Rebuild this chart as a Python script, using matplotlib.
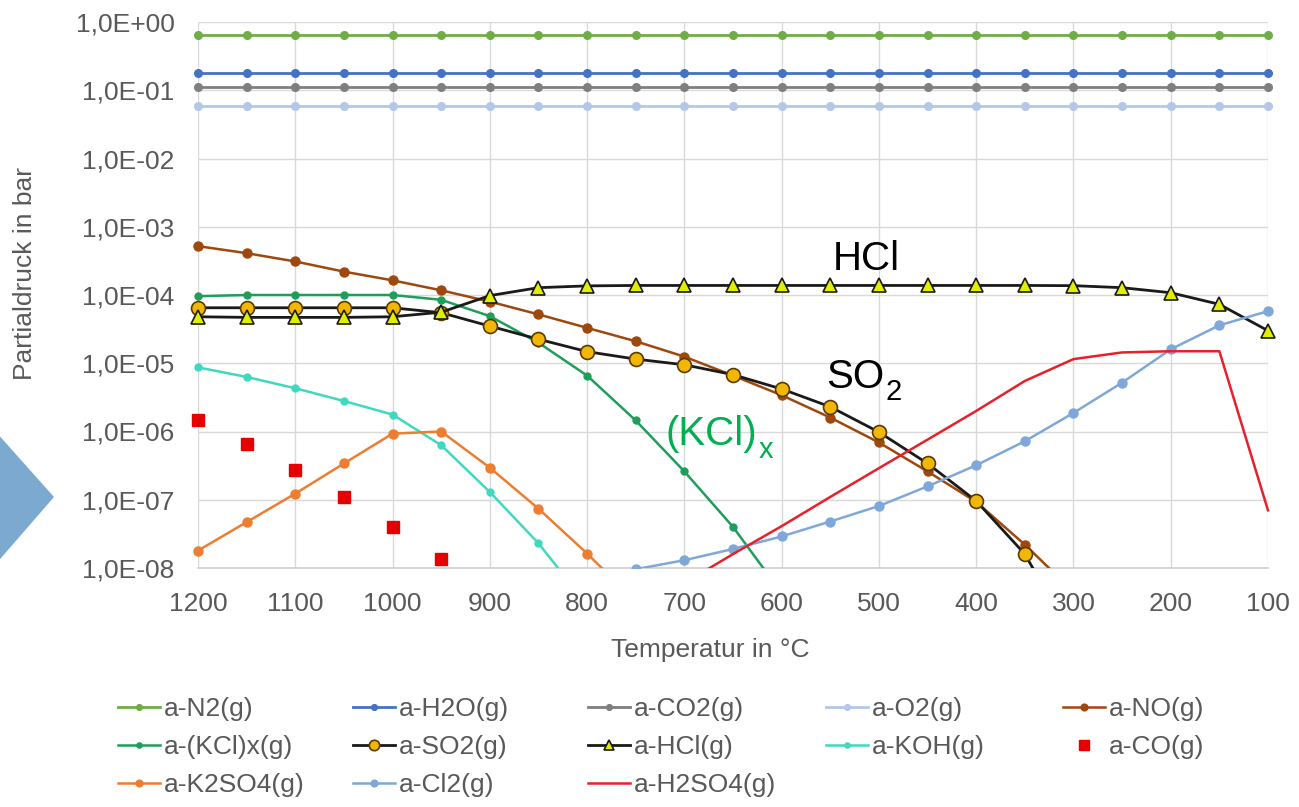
import numpy as np
import matplotlib
matplotlib.use("Agg")
import matplotlib.pyplot as plt
from matplotlib.patches import Polygon
from matplotlib.transforms import Bbox, TransformedBbox

nan = np.nan

T = [1200, 1150, 1100, 1050, 1000, 950, 900, 850, 800, 750, 700, 650,
     600, 550, 500, 450, 400, 350, 300, 250, 200, 150, 100]

N2 = [0.645, 0.645, 0.645, 0.645, 0.645, 0.645, 0.645, 0.645, 0.645, 0.645, 0.645, 0.645,
      0.645, 0.645, 0.645, 0.645, 0.645, 0.645, 0.645, 0.645, 0.645, 0.645, 0.645]
H2O = [0.18, 0.18, 0.18, 0.18, 0.18, 0.18, 0.18, 0.18, 0.18, 0.18, 0.18, 0.18,
       0.18, 0.18, 0.18, 0.18, 0.18, 0.18, 0.18, 0.18, 0.18, 0.18, 0.18]
CO2 = [0.113, 0.113, 0.113, 0.113, 0.113, 0.113, 0.113, 0.113, 0.113, 0.113, 0.113, 0.113,
       0.113, 0.113, 0.113, 0.113, 0.113, 0.113, 0.113, 0.113, 0.113, 0.113, 0.113]
O2 = [0.058, 0.058, 0.058, 0.058, 0.058, 0.058, 0.058, 0.058, 0.058, 0.058, 0.058, 0.058,
      0.058, 0.058, 0.058, 0.058, 0.058, 0.058, 0.058, 0.058, 0.058, 0.058, 0.058]
NO = [5.2e-4, 4.1e-4, 3.1e-4, 2.2e-4, 1.64e-4, 1.17e-4, 8.0e-5, 5.2e-5, 3.3e-5, 2.1e-5,
      1.25e-5, 6.6e-6, 3.4e-6, 1.6e-6, 6.9e-7, 2.6e-7, 9.3e-8, 2.2e-8, 4.5e-9,
      nan, nan, nan, nan]
KCLX = [9.6e-5, 1.0e-4, 1.0e-4, 1.0e-4, 1.0e-4, 8.5e-5, 4.9e-5, 2.0e-5, 6.6e-6, 1.45e-6,
        2.6e-7, 4.0e-8, 4.3e-9, nan, nan, nan, nan, nan, nan, nan, nan, nan, nan]
SO2 = [6.5e-5, 6.5e-5, 6.5e-5, 6.5e-5, 6.5e-5, 5.5e-5, 3.5e-5, 2.25e-5, 1.48e-5, 1.15e-5,
       9.5e-6, 6.8e-6, 4.2e-6, 2.3e-6, 9.8e-7, 3.4e-7, 9.6e-8, 1.6e-8, 9e-10,
       nan, nan, nan, nan]
HCL = [4.8e-5, 4.7e-5, 4.7e-5, 4.7e-5, 4.8e-5, 5.6e-5, 9.8e-5, 1.28e-4, 1.36e-4, 1.38e-4,
       1.38e-4, 1.38e-4, 1.38e-4, 1.38e-4, 1.38e-4, 1.38e-4, 1.38e-4, 1.38e-4, 1.37e-4,
       1.28e-4, 1.08e-4, 7.3e-5, 3.0e-5]
KOH = [8.7e-6, 6.3e-6, 4.3e-6, 2.8e-6, 1.77e-6, 6.3e-7, 1.3e-7, 2.3e-8, 2.9e-9,
       nan, nan, nan, nan, nan, nan, nan, nan, nan, nan, nan, nan, nan, nan]
CO = [1.45e-6, 6.6e-7, 2.7e-7, 1.1e-7, 4.0e-8, 1.35e-8,
      nan, nan, nan, nan, nan, nan, nan, nan, nan, nan, nan, nan, nan, nan, nan, nan, nan]
K2SO4 = [1.8e-8, 4.7e-8, 1.23e-7, 3.4e-7, 9.3e-7, 1.0e-6, 2.95e-7, 7.4e-8, 1.63e-8, 3.2e-9,
         nan, nan, nan, nan, nan, nan, nan, nan, nan, nan, nan, nan, nan]
CL2 = [nan, nan, nan, nan, nan, nan, nan, nan, nan, 9.6e-9,
       1.3e-8, 1.9e-8, 2.9e-8, 4.8e-8, 8.1e-8, 1.57e-7, 3.2e-7, 7.2e-7, 1.87e-6,
       5.2e-6, 1.6e-5, 3.6e-5, 5.8e-5]
H2SO4 = [nan, nan, nan, nan, nan, nan, nan, nan, nan, nan,
         6e-9, 1.6e-8, 4.1e-8, 1.1e-7, 2.9e-7, 7.6e-7, 2.0e-6, 5.5e-6, 1.15e-5,
         1.44e-5, 1.5e-5, 1.5e-5, 7e-8]

Y_TICKS = [1e0, 1e-1, 1e-2, 1e-3, 1e-4, 1e-5, 1e-6, 1e-7, 1e-8]
Y_LABELS = ["1,0E+00", "1,0E-01", "1,0E-02", "1,0E-03", "1,0E-04",
            "1,0E-05", "1,0E-06", "1,0E-07", "1,0E-08"]
X_TICKS = [1200, 1100, 1000, 900, 800, 700, 600, 500, 400, 300, 200, 100]

W, H = 1299, 807
fig = plt.figure(figsize=(W / 100, H / 100), dpi=100)
plt.rcParams['font.family'] = ['Liberation Sans', 'DejaVu Sans']

L, R, TOP, BOT = 198, 1268, 22, 568
ax = fig.add_axes([L / W, 1 - BOT / H, (R - L) / W, (BOT - TOP) / H])
ax.set_yscale('log')
ax.set_ylim(1e-8, 1e0)
ax.set_xlim(1200, 100)

TXT = '#595959'
GRID = '#D9D9D9'
FS = 19

series = [
    ("a-N2(g)", N2, dict(color='#70AD47', marker='o', ms=5.5, lw=2)),
    ("a-H2O(g)", H2O, dict(color='#4472C4', marker='o', ms=5.5, lw=2)),
    ("a-CO2(g)", CO2, dict(color='#7F7F7F', marker='o', ms=5.5, lw=2)),
    ("a-O2(g)", O2, dict(color='#B4C7E7', marker='o', ms=5.5, lw=2)),
    ("a-NO(g)", NO, dict(color='#9E480E', marker='o', ms=6.5, lw=1.8)),
    ("a-(KCl)x(g)", KCLX, dict(color='#1E9E5A', marker='o', ms=5, lw=1.8)),
    ("a-SO2(g)", SO2, dict(color='#1a1a1a', marker='o', ms=10, lw=2,
                           mfc='#F2B705', mec='#5a3a00', mew=1.2)),
    ("a-HCl(g)", HCL, dict(color='#1a1a1a', marker='^', ms=10.5, lw=2,
                           mfc='#E2EE00', mec='#1a1a1a', mew=1.2)),
    ("a-KOH(g)", KOH, dict(color='#40D9BF', marker='o', ms=5, lw=1.8)),
    ("a-CO(g)", CO, dict(color='#E60000', marker='s', ms=9, lw=0, ls='none')),
    ("a-K2SO4(g)", K2SO4, dict(color='#ED7D31', marker='o', ms=6.5, lw=1.8)),
    ("a-Cl2(g)", CL2, dict(color='#7FA8D8', marker='o', ms=6.5, lw=1.8)),
    ("a-H2SO4(g)", H2SO4, dict(color='#E8202A', marker=None, lw=1.8)),
]

clipbox = TransformedBbox(Bbox([[-0.02, 0.0], [1.02, 1.03]]), ax.transAxes)
handles = []
for i, (lab, vals, st) in enumerate(series):
    ln, = ax.plot(T, vals, label=lab, zorder=3 + i * 0.01, **st)
    ln.set_clip_box(clipbox)
    handles.append(ln)

ax.set_yticks(Y_TICKS)
ax.set_yticklabels(Y_LABELS)
ax.yaxis.set_minor_locator(matplotlib.ticker.NullLocator())
ax.set_xticks(X_TICKS)
ax.set_xticklabels([str(t) for t in X_TICKS])
ax.tick_params(axis='both', length=0, labelsize=FS, colors=TXT)
ax.tick_params(axis='y', pad=17)
ax.tick_params(axis='x', pad=17)
ax.grid(True, color=GRID, lw=1)
ax.set_axisbelow(True)
for s in ['top', 'left', 'right']:
    ax.spines[s].set_visible(False)
ax.spines['bottom'].set_color('#D0D0D0')
ax.spines['bottom'].set_linewidth(1.2)

fig.text(710 / W, 1 - 650 / H, "Temperatur in °C", ha='center', va='center',
         fontsize=FS, color=TXT)
fig.text(25 / W, 1 - 273 / H, "Partialdruck in bar", ha='center', va='center',
         rotation=90, fontsize=FS, color=TXT)

# annotations (main text + subscript placed right after measured main text)
renderer = fig.canvas.get_renderer()


def label_with_sub(x_left, y_base, main, sub, color, size, subsize, sub_drop):
    t = fig.text(x_left / W, 1 - y_base / H, main, ha='left', va='baseline',
                 fontsize=size, color=color)
    if sub:
        bb = t.get_window_extent(renderer=renderer)
        fig.text((bb.x1 + 1) / W, 1 - (y_base + sub_drop) / H, sub, ha='left',
                 va='baseline', fontsize=subsize, color=color)


label_with_sub(833, 270, "HCl", None, 'black', 29, 0, 0)
label_with_sub(826, 388, "SO", "2", 'black', 29, 21, 12)
label_with_sub(666, 445, "(KCl)", "x", '#00B050', 29, 21, 13)

# blue arrow shape on the left
arrow = Polygon([[-12 / W, 1 - 423 / H], [54 / W, 1 - 497 / H], [-12 / W, 1 - 573 / H]],
                closed=True, transform=fig.transFigure, facecolor='#7BA9D0',
                edgecolor='none')
fig.patches.append(arrow)

# legend: 5 columns
col_x = [118, 353, 588, 826, 1063]
rows = [[0, 5, 10], [1, 6, 11], [2, 7, 12], [3, 8], [4, 9]]
for cx, idxs in zip(col_x, rows):
    leg = fig.legend([handles[i] for i in idxs], [series[i][0] for i in idxs],
                     loc='upper left', bbox_to_anchor=(cx / W, 1 - 697 / H),
                     bbox_transform=fig.transFigure, frameon=False,
                     fontsize=FS, borderpad=0, borderaxespad=0,
                     handlelength=1.6, handletextpad=0.15, labelspacing=0.53,
                     markerscale=0.75)
    for t in leg.get_texts():
        t.set_color(TXT)

fig.savefig("out.png", dpi=100)
